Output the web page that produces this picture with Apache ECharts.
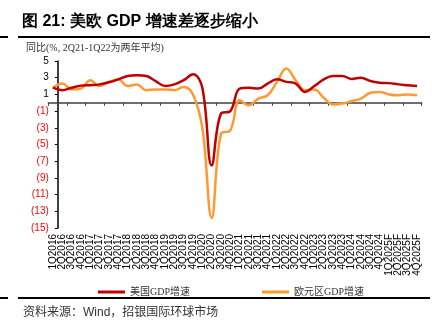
<!DOCTYPE html>
<html>
<head>
<meta charset="utf-8">
<script src="https://cdn.jsdelivr.net/npm/echarts@6/dist/echarts.min.js"></script>
<style>
html,body{margin:0;padding:0;background:#fff;}
#chart{width:446px;height:322px;}
</style>
</head>
<body>
<div id="chart"></div>
<script>
var categories = ['1Q2016','2Q2016','3Q2016','4Q2016','1Q2017','2Q2017','3Q2017','4Q2017',
  '1Q2018','2Q2018','3Q2018','4Q2018','1Q2019','2Q2019','3Q2019','4Q2019',
  '1Q2020','2Q2020','3Q2020','4Q2020','1Q2021','2Q2021','3Q2021','4Q2021',
  '1Q2022','2Q2022','3Q2022','4Q2022','1Q2023','2Q2023','3Q2023','4Q2023',
  '1Q2024','2Q2024','3Q2024','4Q2024','1Q2025F','2Q2025F','3Q2025F','4Q2025F'];
var usGDP = [1.8,1.5,1.8,2.05,2.1,2.2,2.45,2.8,
  3.2,3.3,3.2,2.6,2.0,2.2,2.7,3.4,
  1.8,-7.5,-1.3,-1.0,1.7,1.8,1.7,2.3,
  2.8,2.5,2.3,1.3,2.0,2.8,3.2,3.2,
  2.85,3.0,2.6,2.4,2.35,2.2,2.1,2.0];
var euGDP = [1.8,2.3,1.6,1.7,2.7,2.0,2.5,2.8,
  2.0,2.2,1.5,1.6,1.6,1.5,1.9,1.0,
  -3.0,-13.8,-3.7,-3.3,0.3,-0.3,0.5,0.9,
  2.5,4.1,2.7,1.5,1.6,0.6,-0.2,-0.1,
  0.2,0.5,1.2,1.3,1.0,0.9,1.0,0.9];
var yTicks = {min:-15, max:5, interval:2};
var seriesNames = ['美国GDP增速','欧元区GDP增速'];

var chart = echarts.init(document.getElementById('chart'), null, {renderer:'canvas'});
var cjk = '"Liberation Sans","Noto Sans CJK SC",sans-serif';
var serif = '"Liberation Serif","Noto Sans CJK SC",serif';
var option = {
  backgroundColor:'#fff',
  animation:false,
  grid:{left:48.3, right:24.3, top:61, bottom:94, containLabel:false},
  xAxis:[{
    type:'category', data:categories, boundaryGap:true, position:'bottom',
    axisLine:{show:false, onZero:false}, axisTick:{show:false},
    axisLabel:{interval:0, rotate:90, fontSize:10, color:'#000', margin:6, fontFamily:'"Liberation Sans",Arial,sans-serif'},
    splitLine:{show:false}
  },{
    type:'category', data:categories, boundaryGap:true, position:'bottom',
    axisLine:{show:true, onZero:true, lineStyle:{color:'#404040', width:1.5}},
    axisTick:{show:true, interval:1, length:3, inside:false, lineStyle:{color:'#404040', width:1}},
    axisLabel:{show:false}, splitLine:{show:false}
  }],
  yAxis:{
    type:'value', min:yTicks.min, max:yTicks.max, interval:yTicks.interval, offset:-9.5,
    axisLine:{show:true, lineStyle:{color:'#000', width:1.5}},
    axisTick:{show:true, length:3, lineStyle:{color:'#000', width:1}},
    splitLine:{show:false},
    axisLabel:{fontSize:10, margin:9, fontFamily:'"Liberation Sans",Arial,sans-serif', color:'#000',
      formatter:function(v){ return v<0 ? '{n|(' + (-v) + ')}' : '{p|' + v + '}'; },
      rich:{n:{color:'#FF0000', fontSize:10, fontFamily:'"Liberation Sans",Arial,sans-serif'},
            p:{color:'#000', fontSize:10, fontFamily:'"Liberation Sans",Arial,sans-serif'}}}
  },
  legend:[{
    data:[{name:seriesNames[0], icon:'rect'}], left:93, top:282, itemWidth:27, itemHeight:3, itemGap:0,
    textStyle:{fontSize:10, color:'#333', fontFamily:serif}
  },{
    data:[{name:seriesNames[1], icon:'rect'}], left:257, top:282, itemWidth:27, itemHeight:3, itemGap:0,
    textStyle:{fontSize:10, color:'#333', fontFamily:serif}
  }],
  series:[{
    name:seriesNames[0], type:'line', data:usGDP, smooth:0.4, symbol:'none', xAxisIndex:0,
    lineStyle:{color:'#C00000', width:2.5}, itemStyle:{color:'#C00000'}, z:3
  },{
    name:seriesNames[1], type:'line', data:euGDP, smooth:0.4, symbol:'none', xAxisIndex:0,
    lineStyle:{color:'#FF9933', width:2.5}, itemStyle:{color:'#FF9933'}, z:2
  }],
  graphic:[
    {type:'text', left:22, top:14, style:{text:'图 21: 美欧 GDP 增速差逐步缩小', fontSize:16, fontWeight:'bold', fill:'#000', font:'bold 16px ' + cjk}},
    {type:'line', shape:{x1:18, y1:37, x2:430, y2:37}, style:{stroke:'#000', lineWidth:2}},
    {type:'line', shape:{x1:0, y1:37, x2:8, y2:37}, style:{stroke:'#000', lineWidth:2}},
    {type:'text', left:26, top:43, style:{text:'同比(%, 2Q21-1Q22为两年平均)', fill:'#333', font:'10px ' + serif}},
    {type:'line', shape:{x1:18, y1:298, x2:430, y2:298}, style:{stroke:'#000', lineWidth:2}},
    {type:'line', shape:{x1:0, y1:298, x2:8, y2:298}, style:{stroke:'#000', lineWidth:2}},
    {type:'text', left:23, top:307, style:{text:'资料来源：Wind，招银国际环球市场', fill:'#333', font:'12px ' + cjk}}
  ]
};
chart.setOption(option);
</script>
</body>
</html>
